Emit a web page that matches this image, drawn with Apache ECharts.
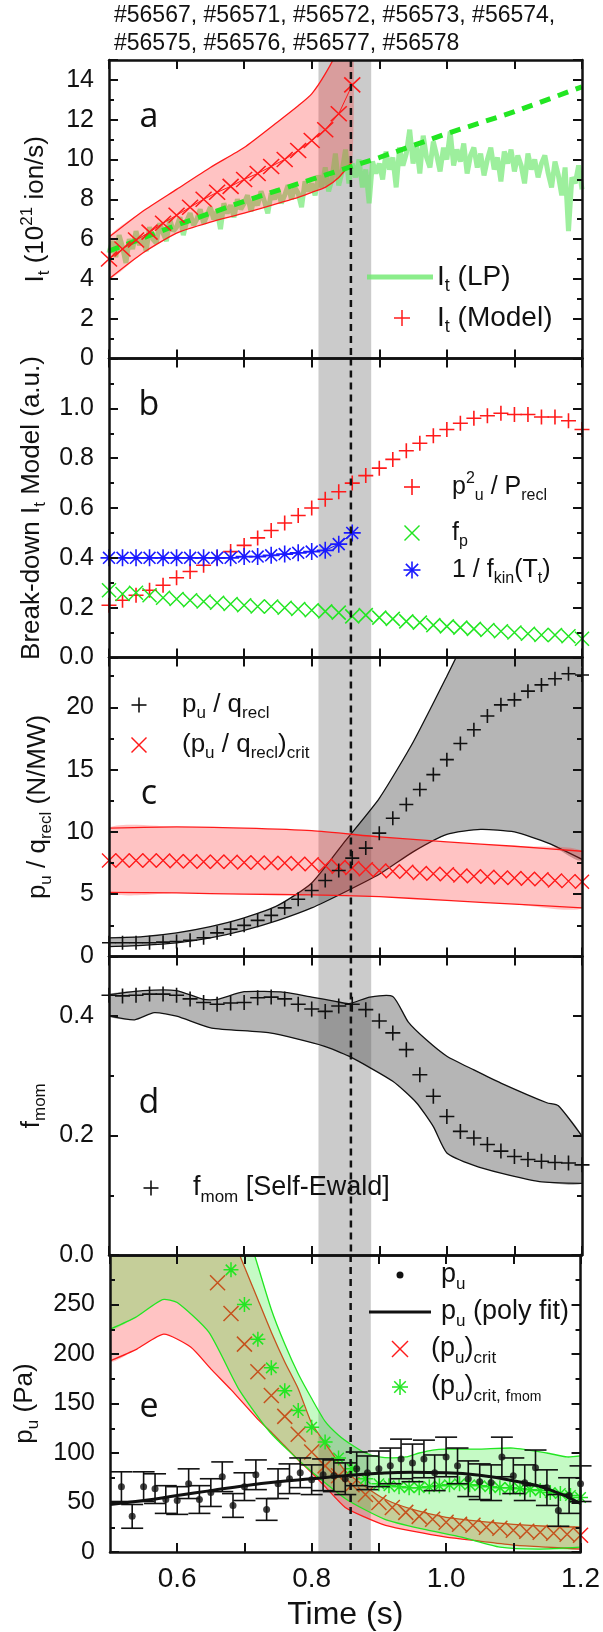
<!DOCTYPE html>
<html>
<head>
<meta charset="utf-8">
<script src="https://cdn.jsdelivr.net/npm/echarts@6/dist/echarts.min.js"></script>
<style>html,body{margin:0;padding:0;background:#fff}#main{width:603px;height:1632px}</style>
</head>
<body>
<div id="main"></div>
<script>
// shared time grid (0.02 s steps)
var T02 = [0.50,0.52,0.54,0.56,0.58,0.60,0.62,0.64,0.66,0.68,0.70,0.72,0.74,0.76,0.78,0.80,0.82,0.84,0.86,
           0.88,0.90,0.92,0.94,0.96,0.98,1.00,1.02,1.04,1.06,1.08,1.10,1.12,1.14,1.16,1.18,1.20];
var BAND = [0.81, 0.888];   // grey window
var EVENT_T = 0.858;        // dashed line

// ---- panel a ----
var itModel = [5.0,5.5,5.95,6.35,6.8,7.2,7.6,8.0,8.35,8.65,9.0,9.3,9.65,10.0,10.45,10.95,11.5,12.3,13.75];
var tBandA = [0.50,0.55,0.60,0.65,0.70,0.75,0.78,0.80,0.82,0.84,0.86];
var itModelHi = [6.1,7.4,8.5,9.6,10.6,11.9,12.7,13.3,14.3,15.6,17.5];
var itModelLo = [4.0,5.3,6.3,6.85,7.3,7.8,8.1,8.35,8.6,9.1,9.9];
var tFitA = [0.5,0.6,0.7,0.8,0.9,1.0,1.1,1.2];
var itFit = [5.4,6.7,7.9,9.0,10.1,11.3,12.4,13.65];
var lpStart = 0.5, lpStep = 0.005;
var itLP = [
5.3,5.9,5.1,6.2,5.6,4.8,6.0,5.5,6.4,5.7,
6.1,5.4,6.6,6.0,5.8,6.8,6.3,5.9,7.0,6.4,
6.6,7.1,6.2,6.9,7.3,6.7,7.0,7.5,6.8,7.2,
7.6,7.0,7.4,6.5,7.8,7.3,7.7,7.1,8.0,7.5,
7.8,8.2,7.4,8.0,7.7,8.4,7.9,7.3,8.3,8.0,
8.5,7.8,8.2,8.7,8.0,8.6,8.3,7.6,8.9,8.4,
8.8,8.2,9.2,8.6,9.6,8.4,9.0,10.3,8.7,9.4,
10.5,8.8,9.8,9.1,10.0,8.6,9.5,7.8,9.9,9.3,
9.8,9.0,10.4,9.5,10.1,8.6,10.6,9.7,10.3,11.5,
9.8,10.7,9.3,11.2,10.1,9.6,10.9,10.2,9.4,10.6,
10.0,11.4,9.7,10.5,9.9,10.8,9.3,10.2,10.6,9.6,
10.3,9.2,10.0,10.6,9.5,10.1,8.9,10.4,9.8,10.5,
9.4,10.2,9.7,8.8,10.3,9.5,10.0,9.1,9.8,10.2,
9.3,8.6,9.9,9.2,8.2,9.6,6.4,9.1,8.8,9.7,
8.5];

// ---- panel b ----
var pRecl = [0.21,0.23,0.25,0.27,0.29,0.32,0.345,0.37,0.40,0.425,0.45,0.48,0.51,0.54,0.57,0.60,0.635,0.665,0.70,
             0.73,0.76,0.795,0.83,0.86,0.89,0.915,0.94,0.96,0.97,0.98,0.975,0.975,0.965,0.965,0.95,0.915];
var fP = [0.27,0.255,0.26,0.25,0.24,0.235,0.23,0.225,0.22,0.215,0.21,0.205,0.205,0.20,0.195,0.19,0.185,0.18,0.165,
          0.17,0.16,0.155,0.145,0.14,0.13,0.125,0.12,0.115,0.11,0.105,0.10,0.095,0.09,0.09,0.085,0.075];
var fKinInv = [0.40,0.40,0.40,0.40,0.40,0.40,0.40,0.40,0.40,0.40,0.405,0.405,0.41,0.415,0.42,0.425,0.43,0.455,0.50];

// ---- panel c ----
var pqRatio = [1.1,1.1,1.1,1.1,1.15,1.2,1.3,1.5,1.9,2.2,2.5,2.9,3.3,3.9,4.6,5.3,6.1,6.9,7.9,
               8.7,9.9,11.1,12.2,13.4,14.6,15.8,17.1,18.2,19.3,20.2,20.6,21.3,21.8,22.3,22.7,22.6];
var pqCrit = [7.7,7.7,7.7,7.7,7.7,7.65,7.65,7.6,7.6,7.6,7.55,7.55,7.5,7.5,7.45,7.4,7.3,7.2,7.1,
              7.0,6.9,6.85,6.8,6.7,6.65,6.6,6.5,6.45,6.4,6.35,6.3,6.25,6.2,6.1,6.05,6.0];
var tBandC = [0.50,0.55,0.60,0.65,0.70,0.75,0.80,0.85,0.90,0.95,1.00,1.05,1.10,1.15,1.20];
var pqHi = [1.5,1.6,1.9,2.4,3.1,4.1,5.9,9.3,12.7,17.2,22.5,28,33,38,43];
var pqLo = [0.8,0.9,1.1,1.5,2.1,2.9,3.9,5.2,6.6,8.4,9.8,10.2,10.0,9.1,7.8];
var tCritC = [0.5,0.6,0.7,0.8,0.9,1.0,1.1,1.2];
var pqCritHi = [10.3,10.4,10.3,10.1,9.6,9.2,8.85,8.45];
var pqCritLo = [5.15,5.1,5.0,4.95,4.8,4.5,4.2,3.9];

// ---- panel d ----
var fMom = [0.435,0.434,0.435,0.437,0.437,0.435,0.429,0.423,0.420,0.422,0.423,0.431,0.432,0.429,0.420,0.412,0.408,0.417,0.420,
            0.411,0.392,0.372,0.344,0.302,0.266,0.232,0.207,0.196,0.185,0.174,0.165,0.160,0.157,0.155,0.154,0.151];
var tMomHi = [0.50,0.55,0.60,0.64,0.66,0.70,0.76,0.80,0.835,0.855,0.886,0.92,0.943,0.97,1.00,1.04,1.08,1.148,1.165,1.20];
var fMomHi = [0.436,0.443,0.443,0.428,0.428,0.441,0.440,0.432,0.425,0.421,0.432,0.433,0.390,0.360,0.333,0.310,0.288,0.255,0.250,0.199];
var tMomLo = [0.50,0.538,0.567,0.60,0.652,0.738,0.818,0.855,0.92,0.955,0.98,1.00,1.04,1.08,1.137,1.20];
var fMomLo = [0.400,0.394,0.406,0.400,0.380,0.372,0.350,0.333,0.291,0.255,0.215,0.171,0.150,0.137,0.123,0.120];

// ---- panel e ----
var tPu = [0.517,0.533,0.550,0.567,0.583,0.600,0.617,0.633,0.650,0.667,0.683,0.700,0.717,0.733,0.750,0.767,0.783,0.800,0.817,0.833,0.850,
           0.867,0.883,0.900,0.917,0.933,0.950,0.967,0.983,1.000,1.017,1.033,1.050,1.067,1.083,1.100,1.117,1.133,1.150,1.167,1.183,1.200];
var pu = [66,36,66,64,53,52,69,53,60,76,47,66,78,43,69,74,80,73,78,77,74,
          84,80,84,87,94,90,94,80,96,87,74,71,70,96,77,70,85,65,42,57,69];
var puErr = [15,12,15,15,14,14,15,14,14,15,12,14,15,11,15,15,15,15,16,16,16,
             17,17,18,18,20,19,19,18,20,18,18,18,18,20,18,18,18,18,16,18,18];
var tFitE = [0.50,0.55,0.60,0.65,0.70,0.75,0.80,0.85,0.90,0.95,1.00,1.05,1.10,1.15,1.20];
var puFit = [48,52,57,62,67,71,74,77,79.5,80.5,80,77.5,72,64,49];
var tCritE = T02.slice(8);
var puCrit = [272,241,210,182,158,137,119,101,87,77,68,58,50,45,40,36,33,30,28,27,25,24,22,21,20,19,18,17];
var tCritHi = [0.50,0.60,0.65,0.69,0.72,0.74,0.76,0.78,0.80,0.82,0.85,0.88,0.91,0.95,1.00,1.05,1.10,1.15,1.20];
var puCritHi = [420,420,380,305,255,222,192,165,130,110,82,66,53,43,35,31,28,26,25];
var tCritLo = [0.50,0.54,0.58,0.62,0.65,0.68,0.72,0.74,0.76,0.78,0.80,0.82,0.85,0.88,0.91,0.95,1.00,1.05,1.10,1.15,1.20];
var puCritLo = [193,205,220,207,185,164,134,121,107,93,80,66,45,35,27,21,15,11,7,5,3];
var tStarE = [0.68,0.70,0.72,0.74,0.76,0.78,0.80,0.82,0.84,0.86,0.88,0.90,0.915,0.93,0.945,0.96,0.975,0.99,1.005,1.02,
              1.035,1.05,1.065,1.08,1.095,1.11,1.125,1.14,1.155,1.17,1.185,1.20];
var puCritMom = [285,250,215,186,163,143,126,111,95,84,74,69,67,66,65,65,66,67,68,69,
                 68,67,66,65,65,64,63,62,60,59,57,55];
var tMomEHi = [0.50,0.65,0.70,0.715,0.74,0.76,0.78,0.80,0.82,0.84,0.86,0.88,0.90,0.92,0.94,0.96,0.98,1.00,1.05,1.10,1.15,1.18,1.20];
var puMomHi = [400,400,330,300,245,210,180,155,132,118,108,100,96,95,96,100,103,104,104,105,100,96,97];
var tMomELo = [0.50,0.538,0.578,0.60,0.647,0.692,0.738,0.795,0.852,0.909,0.966,1.023,1.08,1.137,1.20];
var puMomLo = [225,237,255,252,222,164,121,84,53,33,23,15,5,3,5];

// ---- styling ----
var TXT = '#111';
var FONT = 'Liberation Sans';
var RED = '#ff1a1a', GREEN = '#22e622', BLUE = '#1a1aff';
var PLUS = 'path://M0,5L10,5M5,0L5,10';
var CROSS = 'path://M0,0L10,10M10,0L0,10';
var STAR = 'path://M0,5L10,5M5,0L5,10M1.5,1.5L8.5,8.5M8.5,1.5L1.5,8.5';
var TOPS = [60, 358.5, 657.5, 956.5, 1255];
var HEIGHTS = [298.5, 299, 299, 298.5, 298];

function pairs(ts, vs) { return ts.map(function (t, i) { return [t, vs[i]]; }); }

function rich(fs) {
  var s = Math.round(fs * 0.64), ss = Math.round(fs * 0.5);
  return {
    s: {fontSize: s, fontFamily: FONT, color: TXT, verticalAlign: 'bottom', lineHeight: s},
    p: {fontSize: s, fontFamily: FONT, color: TXT, verticalAlign: 'top', lineHeight: s},
    ss: {fontSize: ss, fontFamily: FONT, color: TXT, verticalAlign: 'bottom', lineHeight: ss}
  };
}

var grids = TOPS.map(function (t, i) { return {left: 109, width: 473, top: t, height: HEIGHTS[i]}; });

var xAxes = [];
[0, 1, 2, 3, 4].forEach(function (g) {
  ['bottom', 'top'].forEach(function (pos) {
    var lab = g === 4 && pos === 'bottom';
    xAxes.push({
      type: 'value', gridIndex: g, position: pos, min: 0.5, max: 1.2, interval: 0.1, z: 10,
      axisLine: {onZero: false, lineStyle: {color: TXT, width: 2.5}},
      axisTick: {inside: true, length: 9, lineStyle: {color: TXT, width: 2}},
      splitLine: {show: false},
      axisLabel: {show: lab, margin: 13, fontFamily: FONT, fontSize: 28, color: TXT, showMinLabel: false, showMaxLabel: true,
        formatter: function (v) { var k = Math.round(v * 10); return (k % 2 === 0 && k >= 6) ? v.toFixed(1) : ''; }},
      name: lab ? 'Time (s)' : '', nameLocation: 'middle', nameGap: 47,
      nameTextStyle: {fontFamily: FONT, fontSize: 32, color: TXT}
    });
  });
});

// major (labelled) and minor tick steps per panel
var yCfg = [
  {min: 0, max: 15, major: 2, minor: 1, gap: 56, name: 'I{s|t} (10{p|21} ion/s)',
   fmt: function (v) { return (v % 2 === 0 && v < 15) ? String(v) : ''; }},
  {min: 0, max: 1.2, major: 0.2, minor: 0.1, gap: 58, name: 'Break-down I{s|t} Model (a.u.)',
   fmt: function (v) { var k = Math.round(v * 10); return (k % 2 === 0 && k < 12) ? v.toFixed(1) : ''; }},
  {min: 0, max: 24, major: 5, minor: 2.5, gap: 47, name: 'p{s|u} / q{s|recl} (N/MW)',
   fmt: function (v) { return (v % 5 === 0 && v < 24) ? String(v) : ''; }},
  {min: 0, max: 0.5, major: 0.2, minor: 0.1, gap: 58, name: 'f{s|mom}',
   fmt: function (v) { var k = Math.round(v * 10); return (k % 2 === 0 && k < 5) ? v.toFixed(1) : ''; }},
  {min: 0, max: 300, major: 50, minor: 25, gap: 68, name: 'p{s|u} (Pa)',
   fmt: function (v) { return (v % 50 === 0 && v < 300) ? String(v) : ''; }}
];

var yAxes = [];
yCfg.forEach(function (c, g) {
  // index 4g: left major (used by series), 4g+1: right major, 4g+2/3: minor ticks
  ['left', 'right'].forEach(function (pos) {
    var left = pos === 'left';
    yAxes.push({
      type: 'value', gridIndex: g, position: pos, min: c.min, max: c.max, interval: c.major, z: 10,
      axisLine: {show: true, onZero: false, lineStyle: {color: TXT, width: 2.5}},
      axisTick: {show: true, inside: true, length: 9, lineStyle: {color: TXT, width: 2}},
      splitLine: {show: false},
      axisLabel: {show: left, margin: 15, fontFamily: FONT, fontSize: 25, color: TXT,
        showMinLabel: true, showMaxLabel: true, formatter: c.fmt},
      name: left ? c.name : '', nameLocation: 'middle', nameGap: c.gap,
      nameTextStyle: {fontFamily: FONT, fontSize: 26, color: TXT, lineHeight: 34, rich: rich(26)}
    });
  });
  ['left', 'right'].forEach(function (pos) {
    yAxes.push({
      type: 'value', gridIndex: g, position: pos, min: c.min, max: c.max, interval: c.minor, z: 10,
      axisLine: {show: false, onZero: false},
      axisTick: {show: true, inside: true, length: 5, lineStyle: {color: TXT, width: 2}},
      splitLine: {show: false}, axisLabel: {show: false}
    });
  });
});

function vBand(g) {
  return {type: 'custom', xAxisIndex: 2 * g, yAxisIndex: 4 * g, z: 1, silent: true, data: [[BAND[0], 0]],
    renderItem: function (p, api) {
      var cs = p.coordSys;
      var x0 = api.coord([BAND[0], 0])[0], x1 = api.coord([BAND[1], 0])[0];
      return {type: 'rect', shape: {x: x0, y: cs.y, width: x1 - x0, height: cs.height},
        style: {fill: 'rgba(130,130,130,0.42)'}};
    }};
}
function vLine(g) {
  return {type: 'custom', xAxisIndex: 2 * g, yAxisIndex: 4 * g, z: 8, silent: true, data: [[EVENT_T, 0]],
    renderItem: function (p, api) {
      var cs = p.coordSys;
      var x = api.coord([EVENT_T, 0])[0];
      return {type: 'line', shape: {x1: x, y1: cs.y, x2: x, y2: cs.y + cs.height},
        style: {stroke: TXT, lineWidth: 2.5, lineDash: [7, 5]}};
    }};
}
function bandSeries(g, tu, vu, tl, vl, fill, stroke, lw, z) {
  return {type: 'custom', xAxisIndex: 2 * g, yAxisIndex: 4 * g, z: z, silent: true, data: [[tu[0], vu[0]]],
    renderItem: function (p, api) {
      var cs = p.coordSys;
      var up = tu.map(function (t, i) { return api.coord([t, vu[i]]); });
      var lo = tl.map(function (t, i) { return api.coord([t, vl[i]]); });
      return {type: 'group',
        clipPath: {type: 'rect', shape: {x: cs.x, y: cs.y, width: cs.width, height: cs.height}},
        children: [
          {type: 'polygon', shape: {points: up.concat(lo.slice().reverse()), smooth: 0.2}, style: {fill: fill}},
          {type: 'polyline', shape: {points: up, smooth: 0.2}, style: {stroke: stroke, lineWidth: lw, fill: null}},
          {type: 'polyline', shape: {points: lo, smooth: 0.2}, style: {stroke: stroke, lineWidth: lw, fill: null}}
        ]};
    }};
}
function marks(g, data, sym, size, color, lw, z, line) {
  return {type: 'line', xAxisIndex: 2 * g, yAxisIndex: 4 * g, z: z, silent: true, data: data,
    symbol: sym, symbolSize: size, showSymbol: true,
    itemStyle: {color: 'rgba(0,0,0,0)', borderColor: color, borderWidth: lw},
    lineStyle: line ? {color: color, width: 1} : {width: 0, opacity: 0}};
}

var series = [];
[0, 1, 2, 3, 4].forEach(function (g) { series.push(vBand(g), vLine(g)); });

// a
series.push({type: 'line', xAxisIndex: 0, yAxisIndex: 0, z: 2, silent: true, showSymbol: false,
  data: itLP.map(function (v, i) { return [+(lpStart + i * lpStep).toFixed(3), v]; }),
  lineStyle: {color: 'rgba(110,232,110,0.68)', width: 5}});
series.push(bandSeries(0, tBandA, itModelHi, tBandA, itModelLo, 'rgba(255,40,40,0.28)', RED, 1.3, 3));
series.push({type: 'line', xAxisIndex: 0, yAxisIndex: 0, z: 4, silent: true, showSymbol: false,
  data: pairs(tFitA, itFit), lineStyle: {color: GREEN, width: 5, type: [11, 8]}});
series.push(marks(0, pairs(T02.slice(0, 19), itModel), CROSS, [16, 15], RED, 1.5, 5, true));

// b
series.push(marks(1, pairs(T02, pRecl), PLUS, 15, RED, 1.6, 4, false));
series.push(marks(1, pairs(T02, fP), CROSS, 14, GREEN, 1.5, 4, false));
series.push(marks(1, pairs(T02.slice(0, 19), fKinInv), STAR, 17, BLUE, 1.6, 5, true));

// c
series.push(bandSeries(2, tBandC, pqHi, tBandC, pqLo, 'rgba(90,90,90,0.45)', TXT, 1.3, 2));
series.push(bandSeries(2, tCritC, pqCritHi, tCritC, pqCritLo, 'rgba(255,40,40,0.28)', RED, 1.3, 3));
series.push(marks(2, pairs(T02, pqCrit), CROSS, 14, RED, 1.4, 4, false));
series.push(marks(2, pairs(T02, pqRatio), PLUS, 14, TXT, 1.6, 5, false));

// d
series.push(bandSeries(3, tMomHi, fMomHi, tMomLo, fMomLo, 'rgba(90,90,90,0.45)', TXT, 1.3, 2));
series.push(marks(3, pairs(T02, fMom), PLUS, 15, TXT, 1.6, 5, false));

// e
series.push(bandSeries(4, tCritHi, puCritHi, tCritLo, puCritLo, 'rgba(255,40,40,0.28)', RED, 1.3, 2));
series.push(marks(4, pairs(tCritE, puCrit), CROSS, 15, RED, 1.5, 3, false));
series.push(bandSeries(4, tMomEHi, puMomHi, tMomELo, puMomLo, 'rgba(40,235,40,0.27)', GREEN, 1.3, 4));
series.push(marks(4, pairs(tStarE, puCritMom), STAR, 15, GREEN, 1.5, 5, false));
series.push({type: 'custom', xAxisIndex: 8, yAxisIndex: 16, z: 6, silent: true,
  data: tPu.map(function (t, i) { return [t, pu[i], puErr[i]]; }),
  encode: {x: 0, y: 1},
  renderItem: function (p, api) {
    var t = api.value(0), v = api.value(1), e = api.value(2);
    var a = api.coord([t, v + e]), b = api.coord([t, v - e]), hw = 11;
    var st = {stroke: TXT, lineWidth: 1.6};
    return {type: 'group', children: [
      {type: 'line', shape: {x1: a[0], y1: a[1], x2: b[0], y2: b[1]}, style: st},
      {type: 'line', shape: {x1: a[0] - hw, y1: a[1], x2: a[0] + hw, y2: a[1]}, style: st},
      {type: 'line', shape: {x1: b[0] - hw, y1: b[1], x2: b[0] + hw, y2: b[1]}, style: st}
    ]};
  }});
series.push({type: 'scatter', xAxisIndex: 8, yAxisIndex: 16, z: 7, silent: true, symbol: 'circle', symbolSize: 7,
  data: pairs(tPu, pu), itemStyle: {color: TXT}});
series.push({type: 'line', xAxisIndex: 8, yAxisIndex: 16, z: 7, silent: true, showSymbol: false, smooth: true,
  data: pairs(tFitE, puFit), lineStyle: {color: TXT, width: 3}});

// legends and labels drawn as graphic elements
function icon(kind, cx, cy, size, color, lw) {
  var h = size / 2, d = h * 0.72, out = [];
  function ln(x1, y1, x2, y2) {
    out.push({type: 'line', z: 20, shape: {x1: x1, y1: y1, x2: x2, y2: y2}, style: {stroke: color, lineWidth: lw}});
  }
  if (kind === 'plus' || kind === 'star') { ln(cx - h, cy, cx + h, cy); ln(cx, cy - h, cx, cy + h); }
  if (kind === 'cross') { ln(cx - h, cy - h, cx + h, cy + h); ln(cx + h, cy - h, cx - h, cy + h); }
  if (kind === 'star') { ln(cx - d, cy - d, cx + d, cy + d); ln(cx + d, cy - d, cx - d, cy + d); }
  if (kind === 'line') { ln(cx - h, cy, cx + h, cy); }
  if (kind === 'dot') { out.push({type: 'circle', z: 20, shape: {cx: cx, cy: cy, r: h}, style: {fill: color}}); }
  return out;
}
function label(x, y, text, fs, fam, align) {
  return {type: 'text', x: x, y: y, z: 20, style: {text: text, fontSize: fs, fontFamily: fam || FONT, fill: TXT,
    align: align || 'left', verticalAlign: 'middle', lineHeight: Math.round(fs * 1.3), rich: rich(fs)}};
}

var graphics = [].concat(
  [label(114, 16, '#56567, #56571, #56572, #56573, #56574,', 23),
   label(114, 44, '#56575, #56576, #56577, #56578', 23)],
  [label(149, 117, 'a', 34, 'Open Sans', 'center'), label(149, 405, 'b', 34, 'Open Sans', 'center'),
   label(149, 794, 'c', 34, 'Open Sans', 'center'), label(149, 1103, 'd', 34, 'Open Sans', 'center'),
   label(149, 1407, 'e', 34, 'Open Sans', 'center')],
  icon('line', 400, 277, 66, 'rgba(110,232,110,0.8)', 5), [label(437, 277, 'I{s|t} (LP)', 28)],
  icon('plus', 402, 318, 16, RED, 1.5), [label(437, 318, 'I{s|t} (Model)', 28)],
  icon('plus', 412, 487, 16, RED, 1.6), [label(452, 487, 'p{p|2}{s|u} / P{s|recl}', 25)],
  icon('cross', 412, 533, 15, GREEN, 1.5), [label(452, 533, 'f{s|p}', 25)],
  icon('star', 412, 570, 17, BLUE, 1.6), [label(452, 570, '1 / f{s|kin}(T{s|t})', 25)],
  icon('plus', 139, 705, 15, TXT, 1.6), [label(182, 705, 'p{s|u} / q{s|recl}', 26)],
  icon('cross', 139, 745, 15, RED, 1.5), [label(182, 745, '(p{s|u} / q{s|recl}){s|crit}', 26)],
  icon('plus', 151, 1188, 15, TXT, 1.6), [label(193, 1188, 'f{s|mom} [Self-Ewald]', 27)],
  icon('dot', 400, 1275, 7, TXT, 1), [label(441, 1275, 'p{s|u}', 27)],
  icon('line', 400, 1312, 62, TXT, 3), [label(441, 1312, 'p{s|u} (poly fit)', 27)],
  icon('cross', 400, 1349, 16, RED, 1.5), [label(431, 1349, '(p{s|u}){s|crit}', 27)],
  icon('star', 400, 1387, 16, GREEN, 1.5), [label(431, 1387, '(p{s|u}){s|crit, f}{ss|mom}', 27)]
);

var chart = echarts.init(document.getElementById('main'));
chart.setOption({
  animation: false,
  backgroundColor: '#fff',
  grid: grids,
  xAxis: xAxes,
  yAxis: yAxes,
  series: series,
  graphic: graphics
});
</script>
</body>
</html>
